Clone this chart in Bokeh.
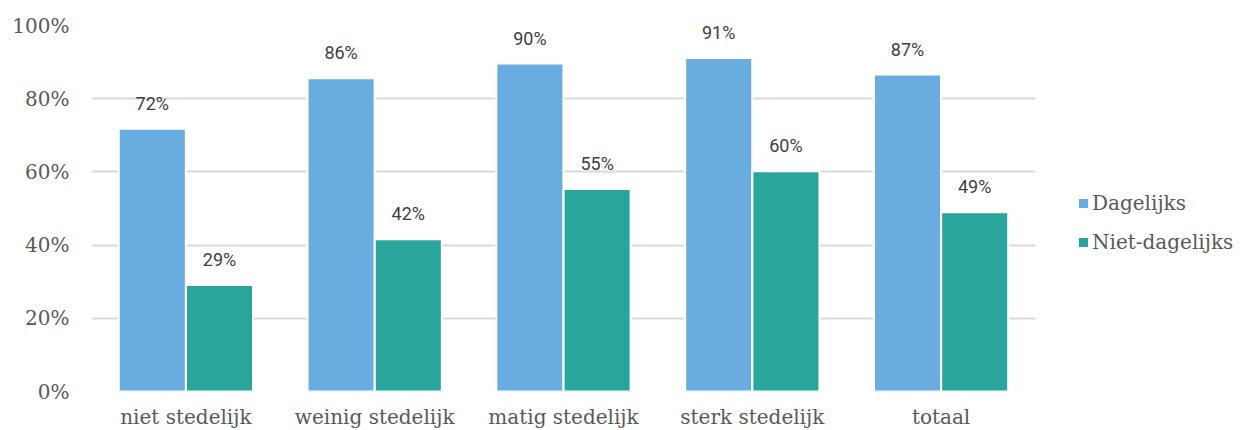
from bokeh.plotting import figure
from bokeh.models import ColumnDataSource, FixedTicker, PrintfTickFormatter, Legend, LegendItem, FactorRange, Range1d
from bokeh.transform import dodge
from bokeh.core.properties import value
from bokeh.embed import file_html
from bokeh.resources import INLINE

categories = ["niet stedelijk", "weinig stedelijk", "matig stedelijk", "sterk stedelijk", "totaal"]
dagelijks = [71.8, 85.6, 89.6, 91.1, 86.6]
niet_dagelijks = [29.1, 41.6, 55.3, 60.2, 49.0]
series_names = ["Dagelijks", "Niet-dagelijks"]
y_ticks = [0, 20, 40, 60, 80, 100]

src = ColumnDataSource(dict(
    cat=categories,
    d=dagelijks,
    n=niet_dagelijks,
    dl=[f"{v:.0f}%" for v in dagelijks],
    nl=[f"{v:.0f}%" for v in niet_dagelijks],
))

p = figure(x_range=FactorRange(*categories, range_padding=0), y_range=Range1d(0, 100),
           frame_width=944, frame_height=366, output_backend="svg", toolbar_location=None,
           min_border_left=91, min_border_right=0, min_border_top=25, min_border_bottom=31)
p.outline_line_color = None
p.background_fill_color = "white"

blue = "#69ACDF"
teal = "#2AA59B"
bw = 0.355
off = 0.178

r1 = p.vbar(x=dodge("cat", -off, range=p.x_range), top="d", width=bw, source=src,
            fill_color=blue, line_color="white", line_width=2)
r2 = p.vbar(x=dodge("cat", off, range=p.x_range), top="n", width=bw, source=src,
            fill_color=teal, line_color="white", line_width=2)

p.text(x=dodge("cat", -off, range=p.x_range), y="d", text="dl", source=src,
       text_align="center", text_baseline="bottom", y_offset=-15,
       text_font=value("Roboto"), text_font_size="18px", text_color="#404040")
p.text(x=dodge("cat", off, range=p.x_range), y="n", text="nl", source=src,
       text_align="center", text_baseline="bottom", y_offset=-15,
       text_font=value("Roboto"), text_font_size="18px", text_color="#404040")

p.ygrid.ticker = FixedTicker(ticks=y_ticks)
p.ygrid.grid_line_color = "#D9D9D9"
p.ygrid.grid_line_width = 2
p.xgrid.grid_line_color = None
p.ygrid.level = "underlay"

p.yaxis.ticker = FixedTicker(ticks=y_ticks)
p.yaxis.formatter = PrintfTickFormatter(format="%d%%")
p.yaxis.axis_line_color = None
p.yaxis.major_tick_line_color = None
p.yaxis.minor_tick_line_color = None
p.yaxis.major_label_text_font = "DejaVu Serif"
p.yaxis.major_label_text_font_size = "20px"
p.yaxis.major_label_text_color = "#595959"
p.yaxis.major_label_standoff = 16

p.xaxis.axis_line_color = None
p.xaxis.major_tick_line_color = None
p.xaxis.minor_tick_line_color = None
p.xaxis.major_label_text_font = "DejaVu Serif"
p.xaxis.major_label_text_font_size = "20px"
p.xaxis.major_label_text_color = "#595959"
p.xaxis.major_label_standoff = 7

legend = Legend(items=[LegendItem(label=series_names[0], renderers=[r1]),
                       LegendItem(label=series_names[1], renderers=[r2])],
                location="left", orientation="vertical",
                title=" ", title_text_font_size="10px", title_standoff=18,
                label_text_font="DejaVu Serif", label_text_font_size="20px",
                label_text_color="#595959", glyph_width=14, glyph_height=14,
                spacing=15, border_line_color=None, background_fill_alpha=0,
                label_standoff=2, padding=0, margin=0)
legend.margin = 41
p.add_layout(legend, "right")

open("out.html", "w").write(file_html(p, INLINE))
